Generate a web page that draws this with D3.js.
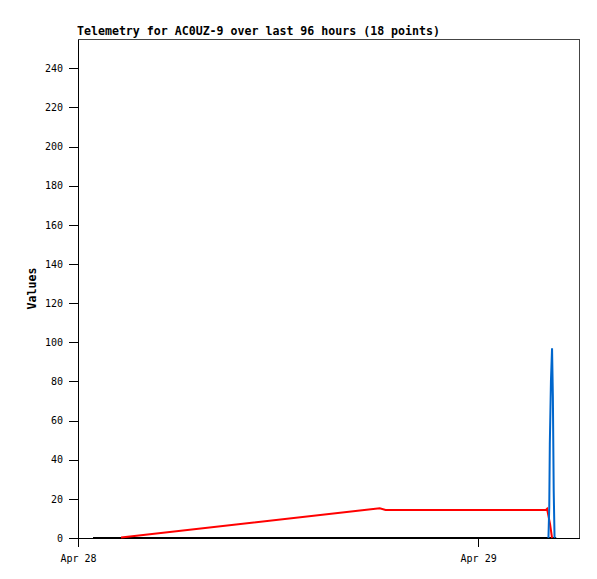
<!DOCTYPE html>
<html><head><meta charset="utf-8">
<script src="https://cdn.jsdelivr.net/npm/d3@7"></script>
<style>
body{margin:0;background:#fff;}
text{font-family:"DejaVu Sans Mono",monospace;}
</style></head>
<body><svg id="c" width="597" height="579"></svg>
<script>
const titleText = "Telemetry for AC0UZ-9 over last 96 hours (18 points)";
const yLabel = "Values";
const xTickDates = ["2024-04-28T00:00:00Z", "2024-04-29T00:00:00Z"];
const yTicks = [0,20,40,60,80,100,120,140,160,180,200,220,240];
const xDomain = ["2024-04-28T00:00:00Z", "2024-04-29T06:03:00Z"];
const yDomain = [0, 255];

// timestamps (UTC)
const times = [
 "2024-04-28T00:54:00Z","2024-04-28T02:35:00Z","2024-04-28T18:06:00Z","2024-04-28T18:27:00Z",
 "2024-04-29T04:04:00Z","2024-04-29T04:08:00Z","2024-04-29T04:13:00Z","2024-04-29T04:16:00Z",
 "2024-04-29T04:18:00Z","2024-04-29T04:19:00Z","2024-04-29T04:22:00Z","2024-04-29T04:26:00Z",
 "2024-04-29T04:29:00Z","2024-04-29T04:32:00Z","2024-04-29T04:35:00Z","2024-04-29T04:41:00Z"
];
const blackVals = [0,0,null,null,null,null,null,null,null,null,null,null,null,null,null,0];
const redVals   = [null,0.3,15.2,14.3,14.3,14.9,null,null,null,7,null,0,null,null,null,null];
const blueVals  = [null,null,null,null,null,null,0,16,48,null,80,97,72,24,0,null];

const series = [
  {vals: blackVals, color: "#000000"},
  {vals: redVals, color: "#ff0000"},
  {vals: blueVals, color: "#0066cc"}
];

const svg = d3.select("#c");
const L=78, R=579, T=39, B=538;
const x = d3.scaleUtc().domain(xDomain.map(d=>new Date(d))).range([L,R]);
const y = d3.scaleLinear().domain(yDomain).range([B,T]);

// frame
svg.append("rect").attr("x",L).attr("y",T).attr("width",R-L).attr("height",B-T)
  .attr("fill","none").attr("stroke","#444").attr("stroke-width",1).attr("shape-rendering","crispEdges");

// title
svg.append("text").attr("x",L-1).attr("y",35).attr("font-size","11.6px").attr("font-weight","bold")
  .text(titleText);

// y label
svg.append("text").attr("transform",`translate(36,${(T+B)/2}) rotate(-90)`).attr("text-anchor","middle")
  .attr("font-size","11.6px").attr("font-weight","bold").text(yLabel);

// y axis
const yAxis = d3.axisLeft(y).tickValues(yTicks).tickSizeInner(9).tickSizeOuter(0).tickPadding(6).tickFormat(d3.format("d"));
const gy = svg.append("g").attr("transform",`translate(${L},0)`).call(yAxis);
gy.select(".domain").attr("stroke","#000").attr("shape-rendering","crispEdges");
gy.selectAll(".tick line").attr("stroke","#000").attr("shape-rendering","crispEdges");
gy.selectAll("text").attr("font-family","DejaVu Sans Mono, monospace").attr("font-size","10px").attr("fill","#000");

// x axis
const xAxis = d3.axisBottom(x).tickValues(xTickDates.map(d=>new Date(d))).tickSizeInner(9).tickSizeOuter(0).tickPadding(8)
  .tickFormat(d3.utcFormat("%b %d"));
const gx = svg.append("g").attr("transform",`translate(0,${B})`).call(xAxis);
gx.select(".domain").attr("stroke","#000").attr("stroke-width",1.5).attr("shape-rendering","crispEdges");
gx.selectAll(".tick line").attr("stroke","#000").attr("shape-rendering","crispEdges");
gx.selectAll("text").attr("font-family","DejaVu Sans Mono, monospace").attr("font-size","10px").attr("fill","#000");

// lines
const line = d3.line().defined(d=>d[1]!=null).x(d=>x(d[0])).y(d=>y(d[1]));
series.forEach(s=>{
  const pts = times.map((t,i)=>[new Date(t), s.vals[i]]).filter(d=>d[1]!=null);
  svg.append("path").datum(pts).attr("d",line).attr("fill","none")
    .attr("stroke",s.color).attr("stroke-width",2).attr("stroke-linejoin","miter");
});
</script></body></html>
